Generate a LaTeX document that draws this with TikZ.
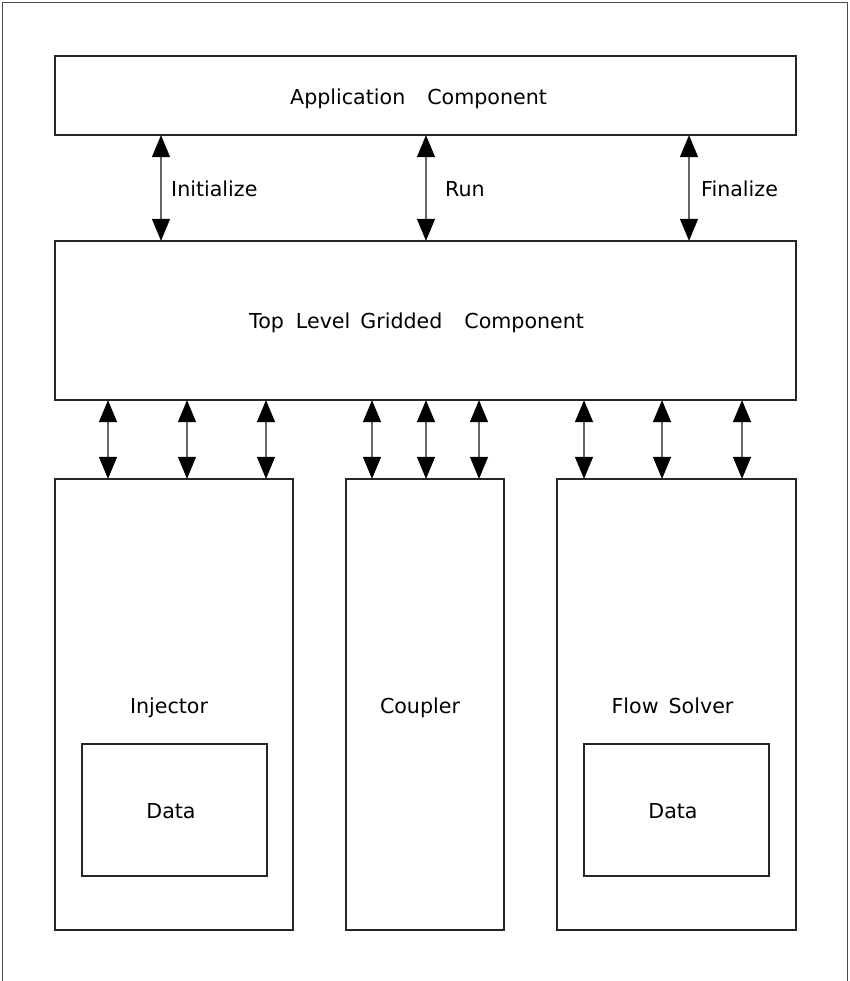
\documentclass[tikz,border=0pt]{standalone}
\usepackage{fontspec}
\setmainfont{DejaVu Sans}
\usetikzlibrary{arrows.meta}
\begin{document}
\begin{tikzpicture}[x=1pt,y=-1pt,
  box/.style={draw=black!85,line width=1.3pt,inner sep=0pt},
  lbl/.style={inner sep=0pt,anchor=base west,font=\fontsize{20.6}{24}\selectfont},
  lblc/.style={inner sep=0pt,anchor=base,font=\fontsize{20.6}{24}\selectfont},
  dbl/.style={draw=black!60,line width=1.2pt,{Triangle[width=18pt,length=22pt,black]}-{Triangle[width=18pt,length=22pt,black]},shorten <=-0.5pt,shorten >=-0.5pt}]
\useasboundingbox (0,0) rectangle (849,981);
\draw[black!70,line width=1.5pt] (2.5,981) -- (2.5,2.5) -- (847.5,2.5) -- (847.5,981);
% boxes
\node[box,minimum width=741pt,minimum height=79pt] (app) at (425.5,95.5) {};
\node[box,minimum width=741pt,minimum height=159pt] (top) at (425.5,320.5) {};
\node[box,minimum width=238pt,minimum height=451pt] (inj) at (174,704.5) {};
\node[box,minimum width=158pt,minimum height=451pt] (cpl) at (425,704.5) {};
\node[box,minimum width=239pt,minimum height=451pt] (flow) at (676.5,704.5) {};
\node[box,minimum width=185pt,minimum height=132pt] (d1) at (174.5,810) {};
\node[box,minimum width=185pt,minimum height=132pt] (d2) at (676.5,810) {};
% labels
\node[lbl] (tapp) at (290,105) {Application\hspace{22pt}Component};
\node[lbl] (ttop) at (249,328) {Top\hspace{12pt}Level\hspace{10pt}Gridded\hspace{22pt}Component};
\node[lbl] (tini) at (171,197) {Initialize};
\node[lbl] (trun) at (445,197) {Run};
\node[lbl] (tfin) at (701,197) {Finalize};
\node[lblc] (tinj) at (169,713) {Injector};
\node[lblc] (tcpl) at (420,713) {Coupler};
\node[lblc] (tflw) at (672.5,713) {Flow\hspace{10pt}Solver};
\node[lblc] (td1) at (171,818) {Data};
\node[lblc] (td2) at (673,818) {Data};
% arrows top
\foreach \x in {161,426,689} \draw[dbl] (\x,0 |- app.south) -- (\x,0 |- top.north);
% arrows bottom
\foreach \x in {108,187,266} \draw[dbl] (\x,0 |- top.south) -- (\x,0 |- inj.north);
\foreach \x in {372,426,479} \draw[dbl] (\x,0 |- top.south) -- (\x,0 |- cpl.north);
\foreach \x in {584,662,742} \draw[dbl] (\x,0 |- top.south) -- (\x,0 |- flow.north);
\end{tikzpicture}
\end{document}
